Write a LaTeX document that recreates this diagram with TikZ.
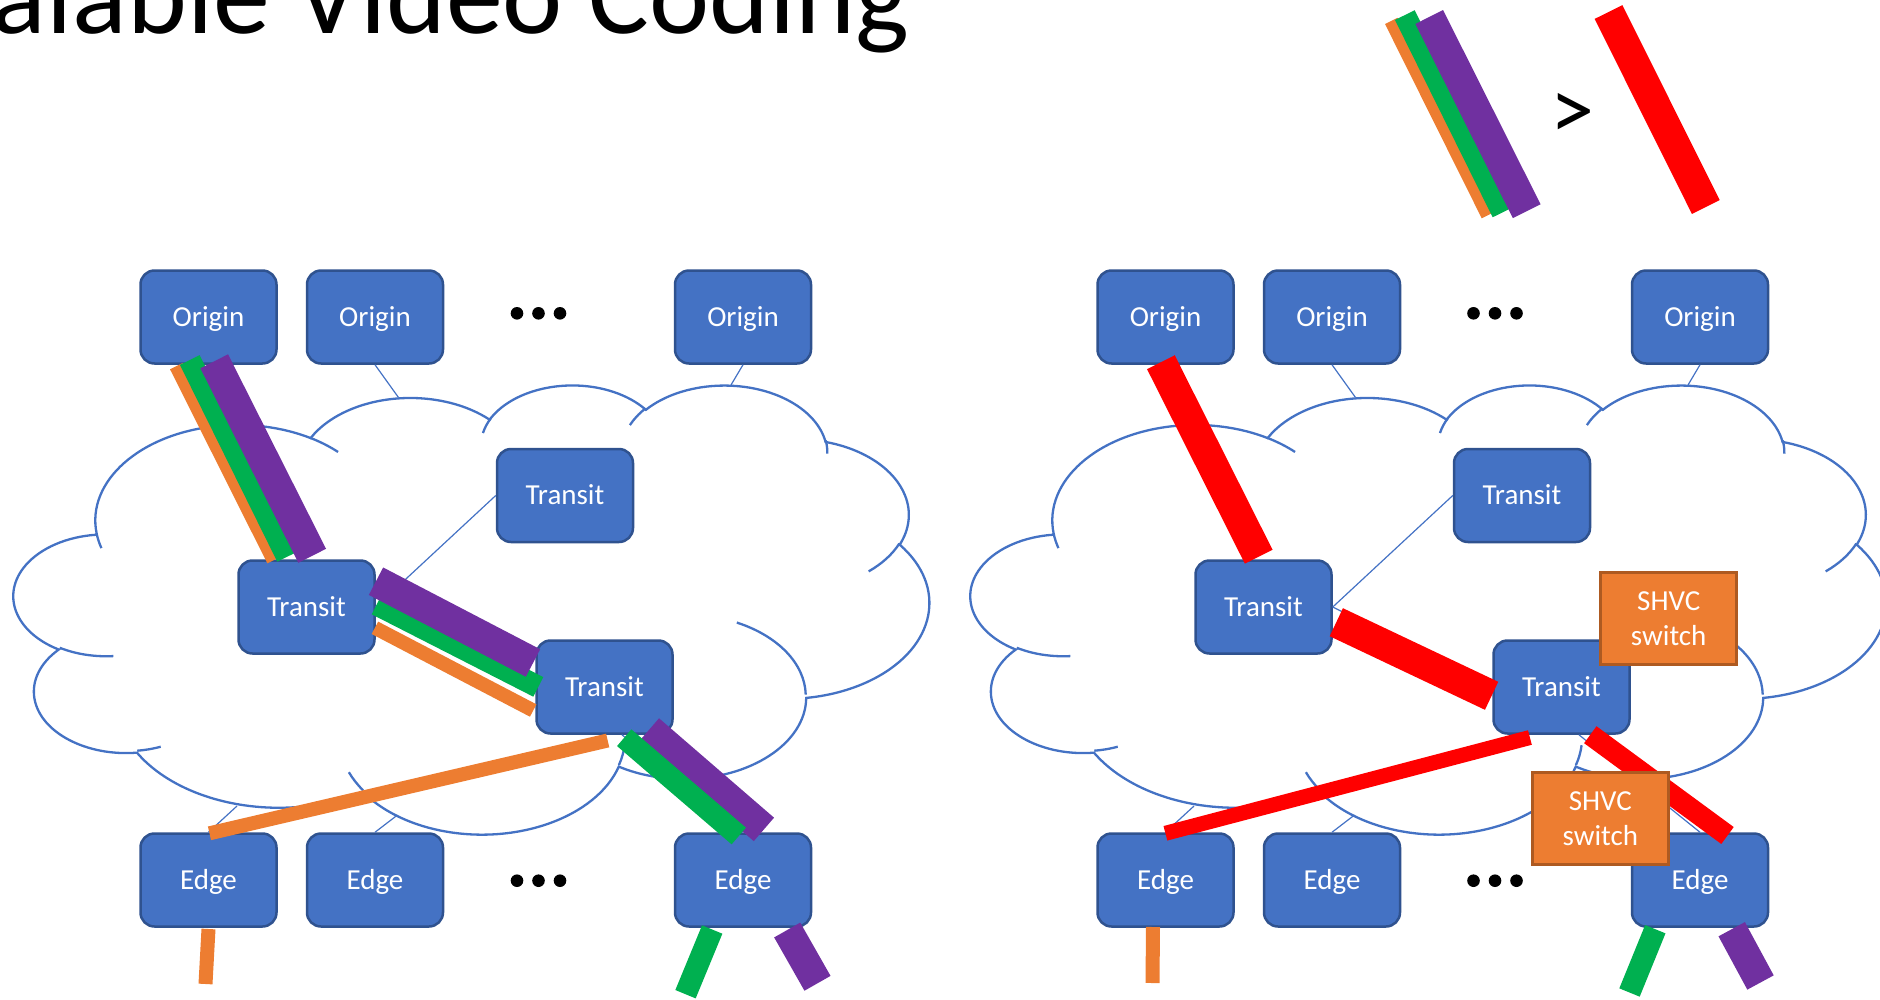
\documentclass[tikz,border=0pt]{standalone}
\usepackage{fontspec}
\setmainfont{Carlito}
\usetikzlibrary{calc}
\definecolor{nodeblue}{HTML}{4472C4}
\definecolor{nodeborder}{HTML}{2F528F}
\definecolor{barorange}{HTML}{ED7D31}
\definecolor{shvcborder}{HTML}{AE5A21}
\definecolor{bargreen}{HTML}{00B050}
\definecolor{barpurple}{HTML}{7030A0}
\definecolor{barred}{HTML}{FF0000}
\newcommand\nodefont{\fontsize{29pt}{35pt}\selectfont}
\newcommand\titlefont{\fontsize{114pt}{130pt}\selectfont}
\newcommand\gtfont{\fontsize{88pt}{100pt}\selectfont}
% elliptical arc with "visual" start/swing angles (DrawingML arcTo)
\newcommand\cldarc[4]{%
  \pgfmathsetmacro\cldS{atan2((#1)*sin(#3),(#2)*cos(#3))}%
  \pgfmathsetmacro\cldE{atan2((#1)*sin((#3)+(#4)),(#2)*cos((#3)+(#4)))}%
  \pgfmathsetmacro\cldD{\cldE-\cldS}%
  \pgfmathsetmacro\cldD{\cldD-360*round((\cldD-(#4))/360)}%
  \global\let\cldS\cldS
  \global\let\cldD\cldD
}
\newcommand\cloudshape[4]{% x0 y0 W H
  \pgfmathsetmacro\csx{(#3)/43.2}%
  \pgfmathsetmacro\csy{(#4)/43.2}%
  \draw[cloudline] (#1+3.900*\csx,#2+14.370*\csy)
    \pgfextra{\cldarc{6.753}{9.190}{-190.4875}{123.7805}}
    arc[start angle=\cldS,delta angle=\cldD,x radius=6.753*\csx,y radius=9.190*\csy]
    \pgfextra{\cldarc{5.333}{7.267}{-144.1024}{89.9452}}
    arc[start angle=\cldS,delta angle=\cldD,x radius=5.333*\csx,y radius=7.267*\csy]
    \pgfextra{\cldarc{4.365}{5.945}{-145.8079}{99.7230}}
    arc[start angle=\cldS,delta angle=\cldD,x radius=4.365*\csx,y radius=5.945*\csy]
    \pgfextra{\cldarc{4.857}{6.595}{-130.9861}{117.2417}}
    arc[start angle=\cldS,delta angle=\cldD,x radius=4.857*\csx,y radius=6.595*\csy]
    \pgfextra{\cldarc{5.333}{7.273}{-78.7089}{109.0269}}
    arc[start angle=\cldS,delta angle=\cldD,x radius=5.333*\csx,y radius=7.273*\csy]
    \pgfextra{\cldarc{6.775}{9.220}{-46.2673}{130.2690}}
    arc[start angle=\cldS,delta angle=\cldD,x radius=6.775*\csx,y radius=9.220*\csy]
    \pgfextra{\cldarc{5.785}{7.867}{0.6250}{114.0333}}
    arc[start angle=\cldS,delta angle=\cldD,x radius=5.785*\csx,y radius=7.867*\csy]
    \pgfextra{\cldarc{6.752}{9.215}{22.4516}{115.1726}}
    arc[start angle=\cldS,delta angle=\cldD,x radius=6.752*\csx,y radius=9.215*\csy]
    \pgfextra{\cldarc{7.720}{10.543}{66.2426}{75.7110}}
    arc[start angle=\cldS,delta angle=\cldD,x radius=7.720*\csx,y radius=10.543*\csy]
    \pgfextra{\cldarc{4.360}{5.918}{-274.9421}{146.7356}}
    arc[start angle=\cldS,delta angle=\cldD,x radius=4.360*\csx,y radius=5.918*\csy]
    \pgfextra{\cldarc{4.345}{5.945}{-246.8285}{152.5189}}
    arc[start angle=\cldS,delta angle=\cldD,x radius=4.345*\csx,y radius=5.945*\csy]
    -- cycle;
  \draw[cloudline]
    (#1+4.693*\csx,#2+26.177*\csy) \pgfextra{\cldarc{4.345}{5.945}{86.7420}{26.4295}}
    arc[start angle=\cldS,delta angle=\cldD,x radius=4.345*\csx,y radius=5.945*\csy]
    (#1+6.928*\csx,#2+34.899*\csy) \pgfextra{\cldarc{4.360}{5.918}{73.6105}{11.4475}}
    arc[start angle=\cldS,delta angle=\cldD,x radius=4.360*\csx,y radius=5.918*\csy]
    (#1+16.478*\csx,#2+39.090*\csy) \pgfextra{\cldarc{6.752}{9.215}{137.6242}{14.0811}}
    arc[start angle=\cldS,delta angle=\cldD,x radius=6.752*\csx,y radius=9.215*\csy]
    (#1+28.827*\csx,#2+34.751*\csy) \pgfextra{\cldarc{6.752}{9.215}{6.4533}{15.9984}}
    arc[start angle=\cldS,delta angle=\cldD,x radius=6.752*\csx,y radius=9.215*\csy]
    (#1+34.129*\csx,#2+22.954*\csy) \pgfextra{\cldarc{5.785}{7.867}{-70.2924}{68.8688}}
    arc[start angle=\cldS,delta angle=\cldD,x radius=5.785*\csx,y radius=7.867*\csy]
    (#1+41.798*\csx,#2+15.354*\csy) \pgfextra{\cldarc{5.333}{7.273}{30.3180}{27.7515}}
    arc[start angle=\cldS,delta angle=\cldD,x radius=5.333*\csx,y radius=7.273*\csy]
    (#1+38.324*\csx,#2+5.426*\csy) \pgfextra{\cldarc{4.857}{6.595}{-13.7443}{14.8589}}
    arc[start angle=\cldS,delta angle=\cldD,x radius=4.857*\csx,y radius=6.595*\csy]
    (#1+29.078*\csx,#2+3.952*\csy) \pgfextra{\cldarc{4.857}{6.595}{-149.1815}{18.1954}}
    arc[start angle=\cldS,delta angle=\cldD,x radius=4.857*\csx,y radius=6.595*\csy]
    (#1+22.141*\csx,#2+4.720*\csy) \pgfextra{\cldarc{4.365}{5.945}{-163.4943}{17.6864}}
    arc[start angle=\cldS,delta angle=\cldD,x radius=4.365*\csx,y radius=5.945*\csy]
    (#1+14.000*\csx,#2+5.192*\csy) \pgfextra{\cldarc{6.753}{9.190}{-66.7070}{12.3194}}
    arc[start angle=\cldS,delta angle=\cldD,x radius=6.753*\csx,y radius=9.190*\csy]
    (#1+4.127*\csx,#2+15.789*\csy) \pgfextra{\cldarc{6.753}{9.190}{157.6544}{11.8582}}
    arc[start angle=\cldS,delta angle=\cldD,x radius=6.753*\csx,y radius=9.190*\csy];
}
\begin{document}
\begin{tikzpicture}[x=1pt,y=-1pt,
  cloudline/.style={draw=nodeblue,line width=2.3pt},
  box/.style={draw=nodeborder,line width=2.5pt,fill=nodeblue,rounded corners=14pt,
    minimum width=136pt,minimum height=93pt,inner sep=0pt,text=white,font=\nodefont,
    text height=18.5pt,text depth=0pt},
  shvc/.style={draw=shvcborder,line width=3pt,fill=barorange,
    minimum width=136pt,minimum height=92pt,inner sep=0pt,text=white,font=\nodefont,align=center},
  thinlink/.style={draw=nodeblue,line width=1.2pt},
  obar/.style={draw=barorange,line width=14pt},
  gbar/.style={draw=bargreen,line width=22pt},
  pbar/.style={draw=barpurple,line width=31pt},
  rbar/.style={draw=barred,line width=31pt},
  dot/.style={fill=black}]
\useasboundingbox (0,0) rectangle (1880,999);
\clip (0,0) rectangle (1880,999);

% title
\node[anchor=base west,inner sep=0pt,font=\titlefont] (title) at (-108,33) {Scalable Video Coding};

% legend
\coordinate (lo1) at (1391.3,20.9); \coordinate (lo2) at (1488,215.2);
\coordinate (lg1) at (1404.8,15.1); \coordinate (lg2) at (1502.5,212.4);
\coordinate (lp1) at (1429.2,17);   \coordinate (lp2) at (1526.7,211.2);
\coordinate (lr1) at (1608.5,12);   \coordinate (lr2) at (1705.8,207);
\draw[obar] (lo1) -- (lo2);
\draw[gbar] (lg1) -- (lg2);
\draw[pbar] (lp1) -- (lp2);
\draw[rbar] (lr1) -- (lr2);
\node[inner sep=0pt,font=\gtfont] (gt) at (1572,116) {>};

% clouds
\cloudshape{14}{384}{915}{449}
\cloudshape{971}{384}{915}{449}

% ===== left panel =====
\coordinate (c2) at (398.5,397.5);
\coordinate (c3) at (731,385);
\coordinate (c4) at (237,806);
\coordinate (c5) at (397.5,815);
\node[box] (o1) at (208.5,317) {Origin};
\node[box] (o2) at (375,317) {Origin};
\node[box] (o3) at (743,317) {Origin};
\node[box] (tu) at (565,495.5) {Transit};
\node[box] (tl) at (306.5,607) {Transit};
\node[box] (td) at (604.5,687) {Transit};
\node[box] (e1) at (208.5,880) {Edge};
\node[box] (e2) at (375,880) {Edge};
\node[box] (e3) at (743,880) {Edge};
\draw[thinlink] (o2.south) -- (c2);
\draw[thinlink] (o3.south) -- (c3);
\draw[thinlink] (tl.east) -- (tu.west);
\draw[thinlink] (tl.east) -- (td.west);
\draw[thinlink] (td.-70) -- (e3.north);
\draw[thinlink] (e1.north) -- (c4);
\draw[thinlink] (e2.north) -- (c5);
\foreach \dx in {-21.5,0,21.5} {
  \fill[dot] (538.5+\dx,313.3) circle (6.3);
  \fill[dot] (538.5+\dx,880.7) circle (6.3);
}
% bars
\draw[obar] ($(o1)+(-32.2,49.2)$) -- ($(tl)+(-32.9,-46.8)$);
\draw[gbar] ($(o1)+(-18.7,43)$) -- ($(tl)+(-19.4,-50.2)$);
\draw[pbar] ($(o1)+(5.7,44.3)$) -- ($(tl)+(5.7,-51.2)$);
\draw[obar] ($(tl)+(68.4,20.8)$) -- ($(td)+(-71.3,23.5)$);
\draw[gbar] ($(tl)+(70.2,-2.5)$) -- ($(td)+(-66.2,-0.1)$);
\draw[pbar] ($(tl)+(69.5,-25.8)$) -- ($(td)+(-71.5,-24)$);
\draw[obar] ($(td)+(3.2,53.5)$) -- ($(e1)+(1,-46.7)$);
\draw[pbar] ($(td)+(44.4,43)$) -- ($(e3)+(20.9,-50.6)$);
\draw[gbar] ($(td)+(19.7,50.7)$) -- ($(e3)+(-4.2,-44)$);
\coordinate (u1) at ($(e1)+(-3,104)$);
\coordinate (u2) at ($(e3)+(-57.5,114.2)$);
\coordinate (u3) at ($(e3)+(74.5,103.3)$);
\draw[obar] ($(e1)+(0,49)$) -- (u1);
\draw[gbar] ($(e3)+(-30.8,49.5)$) -- (u2);
\draw[pbar,line width=30pt] ($(e3)+(44.2,50)$) -- (u3);

% ===== right panel =====
\coordinate (c2r) at (1355.5,397.5);
\coordinate (c3r) at (1688,385);
\coordinate (c4r) at (1194,806);
\coordinate (c5r) at (1354.5,815);
\node[box] (o1r) at (1165.5,317) {Origin};
\node[box] (o2r) at (1332,317) {Origin};
\node[box] (o3r) at (1700,317) {Origin};
\node[box] (tur) at (1522,495.5) {Transit};
\node[box] (tlr) at (1263.5,607) {Transit};
\node[box] (tdr) at (1561.5,687) {Transit};
\node[box] (e1r) at (1165.5,880) {Edge};
\node[box] (e2r) at (1332,880) {Edge};
\node[box] (e3r) at (1700,880) {Edge};
\draw[thinlink] (o2r.south) -- (c2r);
\draw[thinlink] (o3r.south) -- (c3r);
\draw[thinlink] (tlr.east) -- (tur.west);
\draw[thinlink] (tlr.east) -- (tdr.west);
\draw[thinlink] (tdr.-70) -- (e3r.north);
\draw[thinlink] (e1r.north) -- (c4r);
\draw[thinlink] (e2r.north) -- (c5r);
\foreach \dx in {-21.5,0,21.5} {
  \fill[dot] (1495+\dx,313.3) circle (6.3);
  \fill[dot] (1495+\dx,880.7) circle (6.3);
}
\draw[rbar] ($(o1r)+(-4.6,45.2)$) -- ($(tlr)+(-4.8,-50.3)$);
\draw[rbar] ($(tlr)+(72.8,15.2)$) -- ($(tdr)+(-69.9,8.8)$);
\draw[rbar,line width=15pt] ($(tdr)+(-31.6,50.5)$) -- ($(e1r)+(-0.1,-46.7)$);
\draw[rbar,line width=21pt] ($(tdr)+(28.8,47.7)$) -- ($(e3r)+(27.5,-44.5)$);
\coordinate (u1r) at ($(e1r)+(-13,103)$);
\coordinate (u2r) at ($(e3r)+(-70.5,112.5)$);
\coordinate (u3r) at ($(e3r)+(60.5,102.5)$);
\draw[obar] ($(e1r)+(-12.5,47)$) -- (u1r);
\draw[gbar] ($(e3r)+(-44.7,49.2)$) -- (u2r);
\draw[pbar,line width=30pt] ($(e3r)+(31.7,49.2)$) -- (u3r);
\node[shvc] (s1) at (1668.7,618.5) {SHVC\\switch};
\node[shvc] (s2) at (1600.3,818.2) {SHVC\\switch};
\end{tikzpicture}
\end{document}
